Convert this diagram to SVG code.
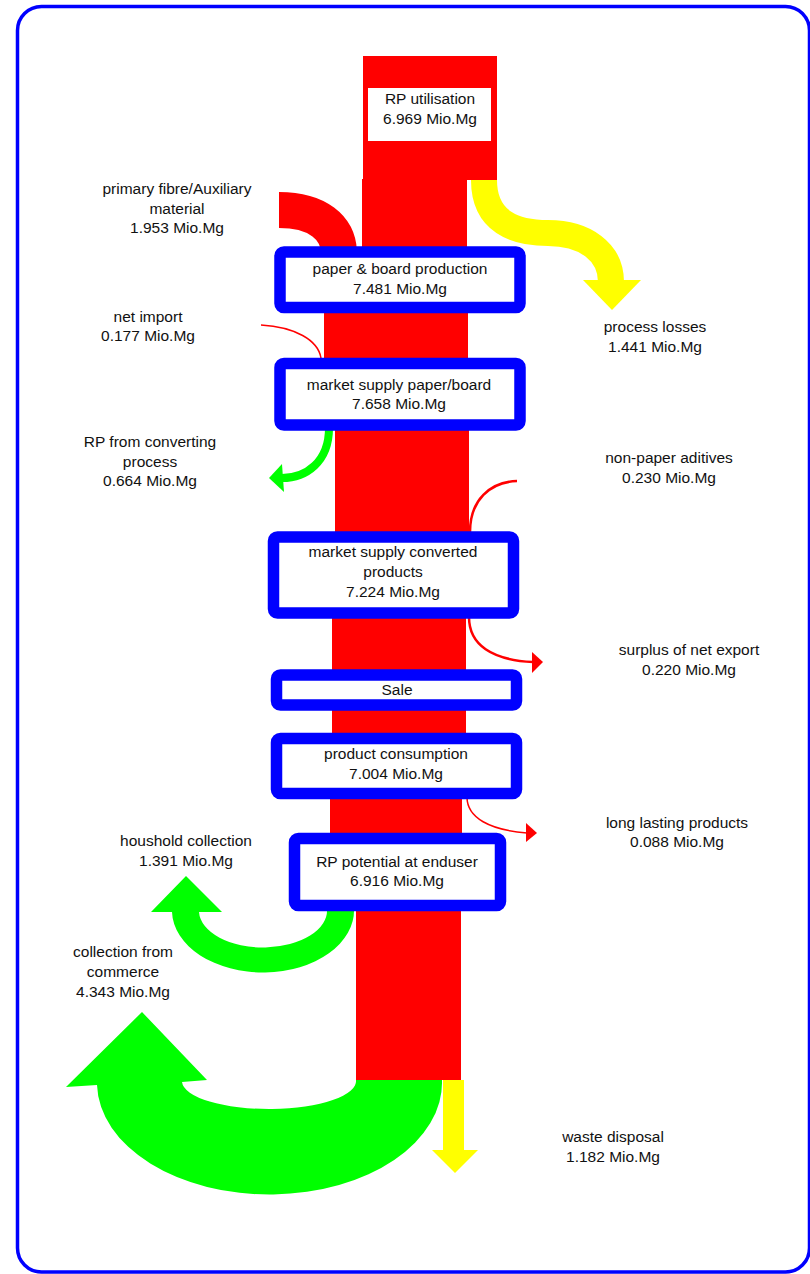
<svg xmlns="http://www.w3.org/2000/svg" width="810" height="1274" viewBox="0 0 810 1274">
<style>
text{font-family:"Liberation Sans",Arial,sans-serif;font-size:15.5px;fill:#111;text-anchor:middle}
.box{fill:#fff;stroke:#0000ff;stroke-width:11.5}
.red{fill:#ff0000}
.grn{fill:#00ff00}
.yel{fill:#ffff00}
.rl{fill:none;stroke:#ff0000}
</style>
<rect x="17.5" y="6.5" width="792" height="1265.5" rx="24" ry="24" fill="#fff" stroke="#0000ff" stroke-width="3.5"/>
<g id="connectors">
  <!-- main red column -->
  <rect class="red" x="363" y="56" width="134" height="124"/>
  <rect class="red" x="362" y="179" width="105" height="72"/>
  <rect class="red" x="324" y="305" width="144" height="62"/>
  <rect class="red" x="335" y="428" width="134" height="110"/>
  <rect class="red" x="332" y="615" width="134" height="58"/>
  <rect class="red" x="332" y="707" width="134" height="34"/>
  <rect class="red" x="330" y="795" width="132" height="42"/>
  <rect class="red" x="356" y="908" width="105" height="172"/>
  <!-- primary fibre inflow -->
  <path class="rl" d="M279,210 C318,210 338,228 339,252" stroke-width="36"/>
  <!-- process losses -->
  <path d="M484,180 C484,222 515,233 548,233 C585,233 611,252 611,282" fill="none" stroke="#ffff00" stroke-width="26"/>
  <polygon class="yel" points="583,280 641,280 612,310"/>
  <!-- net import -->
  <path class="rl" d="M261,325 C295,327 318,340 321,358" stroke-width="1.5"/>
  <!-- RP from converting process -->
  <path d="M329,428 C329,462 306,478 282,478" fill="none" stroke="#00ff00" stroke-width="8"/>
  <polygon class="grn" points="282,464 269,478 284,492"/>
  <!-- non-paper additives -->
  <path class="rl" d="M517,481 C490,482 470,500 470,532" stroke-width="2.5"/>
  <!-- surplus of net export -->
  <path class="rl" d="M469,617 C469,645 492,660 533,662" stroke-width="2.5"/>
  <polygon class="red" points="532,652 543,662 532,673"/>
  <!-- long lasting products -->
  <path class="rl" d="M467,797 C467,818 490,830 527,833" stroke-width="1.5"/>
  <polygon class="red" points="526,823 537,833 526,842"/>
  <!-- houshold collection -->
  <path class="grn" d="M354,909 A91,62 0 0 1 172,912 L151,912 L186,876 L222,912 L199,912 A64,37 0 0 0 327,909 Z"/>
  <!-- collection from commerce -->
  <path class="grn" d="M442,1080 A172.5,112 0 0 1 97,1085 L66,1087 L142,1012 L207,1080 L182,1082 A87,28 0 0 0 356,1080 Z"/>
  <!-- waste disposal -->
  <rect class="yel" x="443" y="1080" width="21" height="71"/>
  <polygon class="yel" points="432,1150 478,1150 455,1173"/>
</g>
<g id="node-rp-utilisation">
  <rect x="368" y="88" width="123" height="53" fill="#fff"/>
  <text x="430" y="104">RP utilisation</text>
  <text x="430" y="124">6.969 Mio.Mg</text>
</g>
<g id="node-paper-board-production">
  <rect class="box" x="280" y="252" width="240" height="55.5" rx="4"/>
  <text x="400" y="274">paper &amp; board production</text>
  <text x="400" y="294">7.481 Mio.Mg</text>
</g>
<g id="node-market-supply-paper">
  <rect class="box" x="280" y="363.5" width="240" height="61.5" rx="4"/>
  <text x="399" y="390">market supply paper/board</text>
  <text x="399" y="409">7.658 Mio.Mg</text>
</g>
<g id="node-market-supply-converted">
  <rect class="box" x="273.5" y="537" width="240" height="76" rx="4"/>
  <text x="393" y="557">market supply converted</text>
  <text x="393" y="577">products</text>
  <text x="393" y="597">7.224 Mio.Mg</text>
</g>
<g id="node-sale">
  <rect class="box" x="276.5" y="675" width="240" height="30" rx="4"/>
  <text x="397" y="695">Sale</text>
</g>
<g id="node-product-consumption">
  <rect class="box" x="276.5" y="738.5" width="240" height="55" rx="4"/>
  <text x="396" y="759">product consumption</text>
  <text x="396" y="779">7.004 Mio.Mg</text>
</g>
<g id="node-rp-potential">
  <rect class="box" x="294.5" y="838.5" width="206" height="67" rx="4"/>
  <text x="397" y="867">RP potential at enduser</text>
  <text x="397" y="886">6.916 Mio.Mg</text>
</g>
<g id="label-primary-fibre">
  <text x="177" y="194">primary fibre/Auxiliary</text>
  <text x="177" y="213.5">material</text>
  <text x="177" y="233">1.953 Mio.Mg</text>
</g>
<g id="label-net-import">
  <text x="148" y="322">net import</text>
  <text x="148" y="341">0.177 Mio.Mg</text>
</g>
<g id="label-rp-converting">
  <text x="150" y="447">RP from converting</text>
  <text x="150" y="467">process</text>
  <text x="150" y="486">0.664 Mio.Mg</text>
</g>
<g id="label-process-losses">
  <text x="655" y="332">process losses</text>
  <text x="655" y="352">1.441 Mio.Mg</text>
</g>
<g id="label-non-paper">
  <text x="669" y="463">non-paper aditives</text>
  <text x="669" y="483">0.230 Mio.Mg</text>
</g>
<g id="label-surplus">
  <text x="689" y="655">surplus of net export</text>
  <text x="689" y="675">0.220 Mio.Mg</text>
</g>
<g id="label-long-lasting">
  <text x="677" y="828">long lasting products</text>
  <text x="677" y="847">0.088 Mio.Mg</text>
</g>
<g id="label-houshold">
  <text x="186" y="846">houshold collection</text>
  <text x="186" y="866">1.391 Mio.Mg</text>
</g>
<g id="label-commerce">
  <text x="123" y="957">collection from</text>
  <text x="123" y="977">commerce</text>
  <text x="123" y="997">4.343 Mio.Mg</text>
</g>
<g id="label-waste">
  <text x="613" y="1142">waste disposal</text>
  <text x="613" y="1162">1.182 Mio.Mg</text>
</g>
</svg>
